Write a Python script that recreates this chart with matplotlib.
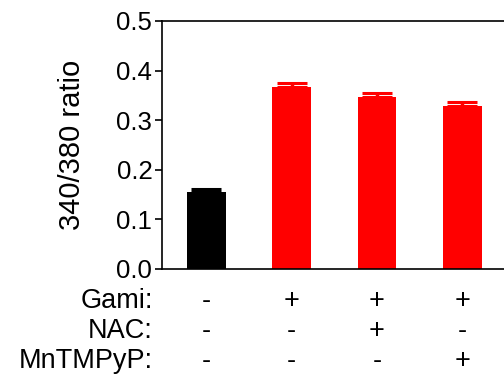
import matplotlib
matplotlib.use("Agg")
import matplotlib.pyplot as plt
import numpy as np

plt.rcParams['font.family'] = ['Liberation Sans', 'DejaVu Sans']

groups = ["ctrl", "Gami", "Gami+NAC", "Gami+MnTMPyP"]
values = [0.156, 0.366, 0.347, 0.329]
errors = [0.005, 0.010, 0.007, 0.007]
colors = ["#000000", "#ff0000", "#ff0000", "#ff0000"]
row_names = ["Gami:", "NAC:", "MnTMPyP:"]
row_signs = [["-", "+", "+", "+"],
             ["-", "-", "+", "-"],
             ["-", "-", "-", "+"]]
yticks = [0.0, 0.1, 0.2, 0.3, 0.4, 0.5]

fig = plt.figure(figsize=(5.04, 3.80), dpi=100)
# axes: left spine at x=162px, y=0 at 269px, y=0.5 at 21px; cropped on the right
ax = fig.add_axes([162/504, (380-269)/380, 1.1 - 162/504, (269-21)/380])

x = np.arange(len(groups))
ax.bar(x, values, width=0.456, color=colors, zorder=2)
for xi, v, e, c in zip(x, values, errors, colors):
    ax.errorbar(xi, v, yerr=[[0], [e]], fmt='none', ecolor=c,
                elinewidth=2.5, capsize=10.5, capthick=2.2, zorder=3)

ax.set_ylim(0, 0.5)
ax.set_xlim(-0.515, 4.075)
ax.set_yticks(yticks)
ax.set_yticklabels([f"{t:.1f}" for t in yticks], fontsize=18.5)
ax.tick_params(axis='y', direction='out', length=5, width=1.2, pad=2)
ax.set_xticks([])
ax.spines['right'].set_visible(False)
for s in ['left', 'bottom', 'top']:
    ax.spines[s].set_linewidth(1.2)
ax.set_ylabel("340/380 ratio", fontsize=21, labelpad=22)

# row labels below the axis
row_y = [301, 331, 361]
for name, signs, ypx in zip(row_names, row_signs, row_y):
    yf = (380 - ypx) / 380
    fig.text(153/504, yf, name, ha='right', va='center', fontsize=19.5)
    for xi, s in zip(x, signs):
        xd = ax.transData.transform((xi, 0))[0]
        fig.text(xd / fig.dpi / fig.get_figwidth(), yf, s, ha='center', va='center',
                 fontsize=19.5)

fig.savefig("out.png", dpi=100)
